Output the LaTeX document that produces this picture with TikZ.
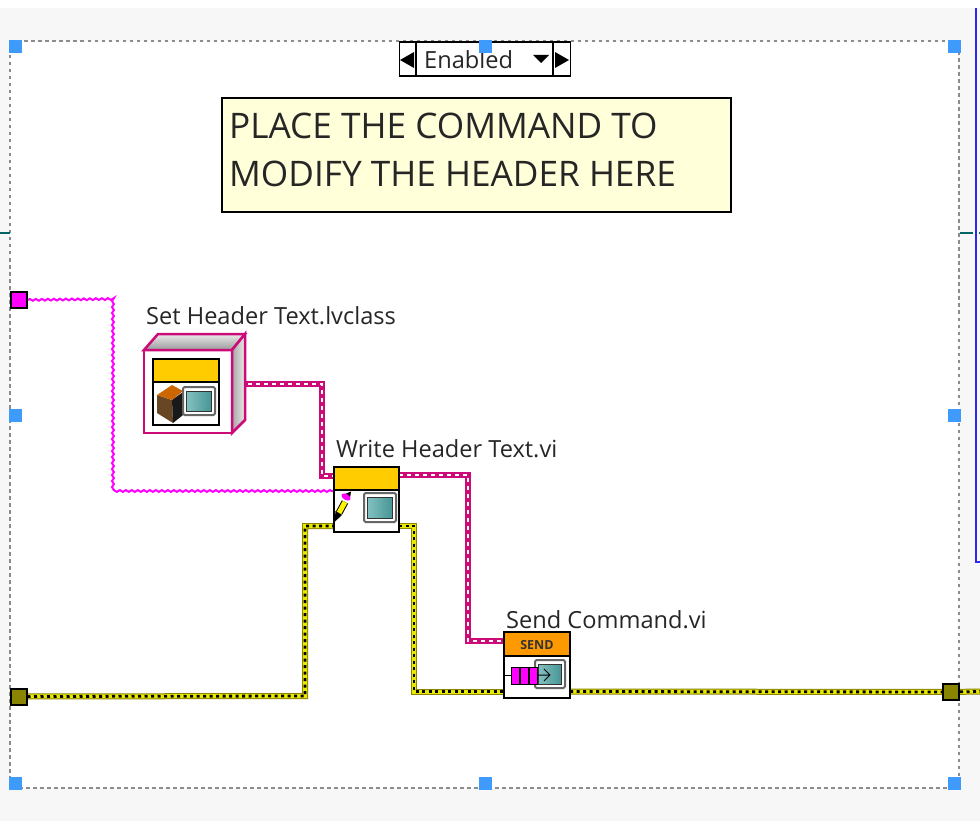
\documentclass[tikz,border=0pt]{standalone}
\usepackage{fontspec}
\setmainfont{Open Sans}
\usetikzlibrary{backgrounds,decorations.pathmorphing}
\definecolor{panelgrey}{HTML}{F7F7F7}
\definecolor{handleblue}{HTML}{3F9BFB}
\definecolor{borderblue}{HTML}{2B2BF0}
\definecolor{notefill}{HTML}{FFFFD9}
\definecolor{classpink}{HTML}{CC0A78}
\definecolor{stringpink}{HTML}{FF00FF}
\definecolor{errorolive}{HTML}{8A8500}
\definecolor{erroryellow}{HTML}{E8E800}
\definecolor{bannergold}{HTML}{FFCC00}
\definecolor{bannerorange}{HTML}{FF9900}
\definecolor{screenteal}{HTML}{4FA6A6}
\tikzset{
  handle/.style={fill=handleblue,minimum size=13pt,inner sep=0pt},
  terminal/.style={draw=black,line width=2pt,minimum size=16pt,inner sep=0pt},
  subvi/.style={draw=black,line width=1.5pt,fill=white,minimum size=65pt,inner sep=0pt},
  vilabel/.style={anchor=west,inner sep=0pt,font=\fontsize{23.6}{23.6}\selectfont,text=black!85},
  classwire/.style={draw=classpink,line width=6pt,postaction={draw=white,line width=2.2pt,dash pattern=on 4pt off 4pt}},
  errorwire/.style={draw=errorolive,line width=6pt,postaction={draw=erroryellow,line width=4pt},postaction={draw=black,line width=2.8pt,dash pattern=on 3pt off 3.5pt}},
  stringwire/.style={draw=stringpink,line width=2pt,decorate,decoration={snake,amplitude=.9pt,segment length=6pt}},
  screen/.style={draw=black!60,line width=2pt,fill=white,rounded corners=1.5pt},
  screenglass/.style={draw=black!80,line width=1pt,left color=screenteal!70!white,right color=screenteal!90!black}
}
\begin{document}
\begin{tikzpicture}[x=1pt,y=-1pt]
  \useasboundingbox (0,0) rectangle (980,821);
  \node[terminal,fill=stringpink] (strterm) at (19,300) {};
  \node[terminal,fill=errorolive] (errin) at (18.5,696.5) {};
  \node[terminal,fill=errorolive] (errout) at (951,692) {};
  \node[subvi,minimum width=88pt,minimum height=83pt,draw=classpink,line width=2.5pt] (setclass) at (188,391.5) {};
  \node[subvi] (writehdr) at (366.5,499.5) {};
  \node[subvi,minimum width=66pt,minimum height=66pt] (sendcmd) at (537,665) {};
  \coordinate (classout) at (240,384);
  \coordinate (writeclassin) at (334,476);
  \coordinate (writeclassout) at (399,475);
  \coordinate (sendclassin) at (504,641);
  \coordinate (writestrin) at (334,491);
  \coordinate (writeerrin) at (334,526);
  \coordinate (writeerrout) at (399,526);
  \coordinate (senderrin) at (504,691.5);
  \coordinate (senderrout) at (570,691.5);
  \coordinate (rightedge) at (980,691.5);
  \begin{scope}[on background layer]
    \fill[panelgrey] (0,8) rectangle (980,821);
    \fill[white] (10,41) rectangle (959,788);
    \draw[black!45,line width=1.5pt,dash pattern=on 3.5pt off 3.5pt] (10,41) rectangle (959,788);
    \draw[borderblue,line width=2.5pt] (976,8) -- (976,562) -- (980,562);
    \draw[teal!80!black,line width=1.5pt] (0,233) -- (10,233) (960,233) -- (973,233) (979,233) -- (980,233);
    \draw[stringwire] (strterm) -- (112,299) -- (112,491) -- (writestrin);
    \draw[classwire] (classout) -- (322,384) -- (322,476) -- (writeclassin);
    \draw[classwire] (writeclassout) -- (468,475) -- (468,641) -- (sendclassin);
    \draw[errorwire] (errin) -- (305,696) -- (305,526) -- (writeerrin);
    \draw[errorwire] (writeerrout) -- (414,526) -- (414,691.5) -- (senderrin);
    \draw[errorwire] (senderrout) -- (errout);
    \draw[errorwire] (errout) -- (rightedge);
  \end{scope}

  \draw[classpink,line width=2.5pt,top color=black!8,bottom color=black!40] (144,350) -- (158,334) -- (245,334) -- (232,350) -- cycle;
  \draw[classpink,line width=2.5pt,left color=black!35,right color=black!8] (232,350) -- (245,334) -- (245,420) -- (232,433) -- cycle;
  \draw[black,line width=1.2pt,fill=white] (153,359) rectangle (219,425);
  \draw[black,line width=1.2pt,fill=bannergold] (153,359) rectangle (219,382);
  \fill[brown!55!black] (157,395) -- (172,400) -- (173,423) -- (157,413) -- cycle;
  \fill[black!90] (172,400) -- (183,392) -- (183,415) -- (173,423) -- cycle;
  \fill[orange!80!black] (157,395) -- (172,385) -- (183,391) -- (172,400) -- cycle;
  \draw[screen] (183,387) rectangle (215,415);
  \draw[screenglass] (186.5,391) rectangle (211,411);

  \draw[black,line width=1.5pt,fill=bannergold] (334,467) rectangle (399,490);
  \draw[screen] (364,493) rectangle (396,522);
  \draw[screenglass] (367.5,497) rectangle (392,518);
  \draw[black,line width=7pt] (339,513) -- (345,502);
  \draw[yellow,line width=5pt] (339,513) -- (345,502);
  \fill[black] (334.5,522) -- (335.5,511) -- (342,515) -- cycle;
  \fill[black] (345,494) -- (351,491.5) -- (350,498) -- cycle;
  \fill[stringpink,rotate around={-30:(346,497)}] (346,497) ellipse (5pt and 3pt);

  \draw[black,line width=1.5pt,fill=bannerorange] (504,632) rectangle (570,656);
  \node[inner sep=0pt,font=\bfseries\fontsize{12.5}{12.5}\selectfont,text=black!80] (sendtext) at (537,645.5) {SEND};
  \draw[black,line width=1pt] (504,675) -- (511,675);
  \draw[screen] (535,660) rectangle (565,688);
  \draw[screenglass] (538,664) rectangle (561,684);
  \foreach \x in {511,520,529} {
    \draw[black,line width=1pt,fill=stringpink] (\x,667) rectangle ++(8.7,17);
  }
  \draw[black,line width=1pt] (537,675) -- (550,675) (544,669) -- (550,675) -- (544,681);

  \node[draw=black,line width=1.5pt,fill=notefill,minimum width=509pt,minimum height=114pt,inner sep=0pt] (note) at (476.5,155) {};
  \node[anchor=west,inner sep=0pt,font=\fontsize{35.2}{48}\selectfont,align=left,text=black!85] (notetext) at (229,150) {PLACE THE COMMAND TO\\MODIFY THE HEADER HERE};

  \node[vilabel] (setlabel) at (146,316) {Set Header Text.lvclass};
  \node[vilabel] (writelabel) at (336,449) {Write Header Text.vi};
  \node[vilabel] (sendlabel) at (506,620) {Send Command.vi};

  \node[draw=black,line width=1.5pt,fill=white,minimum width=171pt,minimum height=34pt,inner sep=0pt] (selector) at (485,59) {};
  \draw[black,line width=1.5pt] (416,42) -- (416,76) (553,42) -- (553,76);
  \fill[black] (400,60) -- (414,52) -- (414,68) -- cycle;
  \fill[black] (569,60) -- (555,52) -- (555,68) -- cycle;
  \fill[black] (533,55) -- (549,55) -- (541,63) -- cycle;
  \node[anchor=west,inner sep=0pt,font=\fontsize{23.6}{23.6}\selectfont,text=black!85] (enabled) at (424,59.5) {Enabled};

  \foreach \x/\y/\n in {15/47/a,485/47/b,954/47/c,15/415/d,954/415/e,15/783/f,485/783/g,954/783/h} {
    \node[handle] (handle\n) at (\x,\y) {};
  }
\end{tikzpicture}
\end{document}
